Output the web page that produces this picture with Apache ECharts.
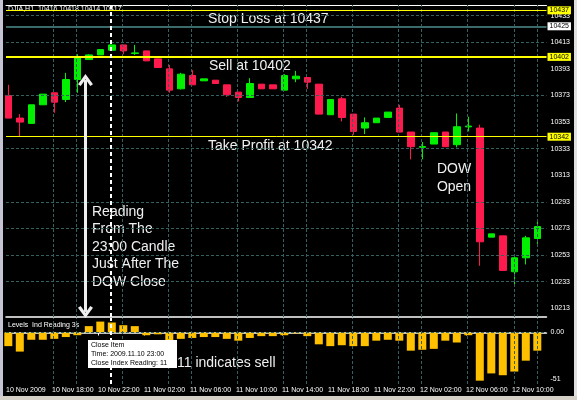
<!DOCTYPE html>
<html><head><meta charset="utf-8">
<script src="https://cdn.jsdelivr.net/npm/echarts@6/dist/echarts.min.js"></script>
<style>html,body{margin:0;padding:0;background:#000;}#c{width:577px;height:400px;}</style>
</head><body><div id="c"></div>
<script>
// ---- data ----
const opens  = [10373,10356,10352,10366,10375,10370,10385,10400,10403.5,10407,10411,10404.6,10406.5,10400.5,10393,10378,10388,10384,10384.5,10381,10375.5,10371.5,10381.5,10381,10377,10385.5,10386.5,10381.5,10358.5,10370.5,10359,10348.5,10352.5,10356.5,10363.5,10345.5,10334,10336.5,10345.5,10336,10349.4,10348.5,10266.5,10267.5,10240.5,10251,10265.5];
const closes = [10356,10353,10366,10374,10368,10385,10401.5,10403.5,10407.5,10411,10406.5,10405,10399,10394,10377,10389,10381,10385.5,10382,10373.5,10371.5,10382,10378,10378,10388,10387.5,10383,10359,10370,10356.5,10346,10352.5,10356,10360.5,10345.5,10334.5,10334.6,10345,10334.5,10349.5,10350,10263,10269,10241.5,10251,10266,10274.5];
const lows   = [10356,10342,10352,10366,10360,10368,10375,10400,10403.5,10407,10404,10403.5,10399,10394,10375,10377.5,10381,10384,10382,10372,10368.5,10371.5,10378,10378,10377,10383,10378,10359,10358.5,10353.5,10343.5,10344,10352.5,10356.5,10345.5,10325,10325,10336.5,10334.5,10334,10346,10245,10266.5,10241.5,10230.5,10246,10261.5];
const highs  = [10381,10359,10366,10374,10375,10390,10404,10404,10407.5,10411,10411,10411,10406.5,10400.5,10396,10390,10392,10385.5,10384.5,10381,10375.5,10386,10381.5,10381,10389,10391.5,10386.5,10381.5,10370,10372,10359,10356.5,10356,10360.5,10366,10345.5,10338,10345,10345.5,10359.5,10357,10351,10269,10267.5,10253,10267.5,10278];
const indicator = [-15,-21,-8,-8,-7,-5,-3,7,12,11,8,7,-3,-2,-9,-7,-6,-5,-5,-7,-9,-6,-4,-4,-3,-1,-4,-13,-15,-14,-15,-15,-9,-8,-9,-20,-19,-18,-9,-11,-3,-53,-45,-47,-43,-31,-20];
const timeLabels = ["10 Nov 2009","10 Nov 18:00","10 Nov 22:00","11 Nov 02:00","11 Nov 06:00","11 Nov 10:00","11 Nov 14:00","11 Nov 18:00","11 Nov 22:00","12 Nov 02:00","12 Nov 06:00","12 Nov 10:00"];
const priceTicks = [10213,10233,10253,10273,10293,10313,10333,10353,10373,10393,10413,10433];
const priceGridLines = [10433,10413,10373,10333,10293,10273,10253,10233];
const timeGridLines = [3.9,5.9,9.9,13.9,15.95,19.9,23.9,25.95,29.95,33.95,35.95,39.95,44,46];
const indicatorTicks = [-51, 0];
const stopLoss = 10437, sellPrice = 10402, takeProfit = 10342, bidPrice = 10425;
const readingCandle = 8.9;   // the 23:00 candle
const arrowCandle = 6.71;
const arrowTop = 10384.6, arrowBottom = 10210.3;

// ---- chart ----
const GREEN = '#00f000', RED = '#ff1a4d', GRID = '#34605f', ORANGE = '#ffc000';
const FONT = 'Liberation Sans';
const chart = echarts.init(document.getElementById('c'), null, {renderer: 'canvas'});
const candleData = opens.map((o, i) => [i, o, closes[i], lows[i], highs[i]]);
const barData = indicator.map((v, i) => [i, v]);
const dash = {color: GRID, width: 1, type: [3, 2]};
const chevron = 'path://M50,0 L100,72 L82,84 L50,36 L18,84 L0,72 Z';

const priceLine = (v, color, width, bg) => ({
  yAxis: v, lineStyle: {color: color, width: width, type: 'solid'},
  label: {show: true, position: 'end', distance: 1, formatter: String(v), color: '#000',
          backgroundColor: bg, fontSize: 7, fontFamily: FONT, padding: [1, 2, 0, 2]}
});

chart.setOption({
  animation: false,
  backgroundColor: '#000',
  grid: [
    {left: 6, top: 5, width: 540.5, height: 312},
    {left: 6, top: 318, width: 540.5, height: 66}
  ],
  xAxis: [
    {type: 'value', gridIndex: 0, min: -0.2, max: 46.8, position: 'top',
     axisLine: {show: true, lineStyle: {color: '#fff', width: 1}}, axisTick: {show: false},
     axisLabel: {show: false}, splitLine: {show: false}},
    {type: 'value', gridIndex: 0, min: -0.2, max: 46.8, position: 'bottom',
     axisLine: {show: true, lineStyle: {color: '#fff', width: 1.5}}, axisTick: {show: false},
     axisLabel: {show: false}, splitLine: {show: false}},
    {type: 'value', gridIndex: 1, min: -0.2, max: 46.8, interval: 4, position: 'bottom',
     axisLine: {show: true, lineStyle: {color: '#fff', width: 1.5}},
     axisTick: {show: true, length: 3, lineStyle: {color: '#fff'}},
     axisLabel: {show: true, color: '#fff', fontSize: 7, fontFamily: FONT, align: 'left', margin: 3,
       showMaxLabel: false,
       formatter: v => timeLabels[Math.round((v + 0.2) / 4)] || ''},
     splitLine: {show: false}}
  ],
  yAxis: [
    {type: 'value', gridIndex: 0, position: 'right', min: 10206.5, max: 10441,
     axisLine: {show: false}, splitLine: {show: false}, axisTick: {show: false},
     axisLabel: {show: true, customValues: priceTicks, color: '#fff', fontSize: 7, fontFamily: FONT, margin: 4,
       formatter: v => String(Math.round(v))}},
    {type: 'value', gridIndex: 1, position: 'right', min: -56.65, max: 15.95,
     axisLine: {show: false}, splitLine: {show: false}, axisTick: {show: false},
     axisLabel: {show: true, customValues: indicatorTicks, color: '#fff', fontSize: 7, fontFamily: FONT, margin: 4,
       formatter: v => v === 0 ? '0.00' : String(v)}}
  ],
  series: [
    {type: 'line', name: 'guides', xAxisIndex: 0, yAxisIndex: 0, z: 1, clip: false,
     data: [[-0.2, 10206.5]], symbol: 'none', lineStyle: {width: 0}, silent: true,
     markLine: {silent: true, symbol: 'none', animation: false, label: {show: false},
       data: [
         ...timeGridLines.map(v => ({xAxis: v, lineStyle: dash})),
         ...priceGridLines.map(v => ({yAxis: v, lineStyle: dash})),
         priceLine(stopLoss, '#ffff00', 1, '#ffff00'),
         priceLine(bidPrice, '#3a6a6a', 2, '#ffffff'),
         priceLine(sellPrice, '#ffff00', 2, '#ffff00'),
         priceLine(takeProfit, '#ffff00', 1, '#ffff00'),
         {xAxis: readingCandle, lineStyle: {color: '#fff', width: 2, type: [4, 3]}}
       ]}},
    {type: 'candlestick', name: 'price', xAxisIndex: 0, yAxisIndex: 0, z: 3,
     barWidth: 7, data: candleData,
     itemStyle: {color: GREEN, color0: RED, borderColor: GREEN, borderColor0: RED, borderWidth: 1}},
    {type: 'line', name: 'arrow', xAxisIndex: 0, yAxisIndex: 0, z: 5, clip: false,
     data: [[-0.2, 10206.5]], symbol: 'none', lineStyle: {width: 0}, silent: true,
     markLine: {silent: true, animation: false, label: {show: false},
       symbol: [chevron, chevron], symbolSize: [15, 12],
       lineStyle: {color: '#eeeeee', width: 3, type: 'solid'},
       data: [[{coord: [arrowCandle, arrowTop]}, {coord: [arrowCandle, arrowBottom]}]]}},
    {type: 'line', name: 'guides2', xAxisIndex: 2, yAxisIndex: 1, z: 1,
     data: [[-0.2, 0]], symbol: 'none', lineStyle: {width: 0}, silent: true,
     markLine: {silent: true, symbol: 'none', animation: false, label: {show: false},
       data: [
         ...timeGridLines.map(v => ({xAxis: v, lineStyle: dash})),
         {yAxis: 0, lineStyle: dash},
         {xAxis: readingCandle, lineStyle: {color: '#fff', width: 2, type: [4, 3]}}
       ]}},
    {type: 'bar', name: 'indicator', xAxisIndex: 2, yAxisIndex: 1, z: 3,
     barWidth: 8, data: barData, itemStyle: {color: ORANGE}}
  ],
  graphic: [
    {type: 'rect', shape: {x: 0, y: 0, width: 3, height: 400}, style: {fill: '#c4c4d4'}},
    {type: 'rect', shape: {x: 574, y: 0, width: 3, height: 400}, style: {fill: '#e0e0e0'}},
    {type: 'rect', shape: {x: 0, y: 396, width: 577, height: 4}, style: {fill: '#d4d0c8'}},
    {type: 'text', x: 8, y: 6, style: {text: 'DJIA,H1  10416 10418 10414 10417', fill: '#fff', font: '7px ' + FONT}},
    {type: 'text', x: 8, y: 322, style: {text: 'Levels  Ind Reading 3s', fill: '#fff', font: '7px ' + FONT}},
    {type: 'text', x: 208, y: 12, style: {text: 'Stop Loss at 10437', fill: '#f0f0f0', font: '14px ' + FONT}},
    {type: 'text', x: 209, y: 59, style: {text: 'Sell at 10402', fill: '#f0f0f0', font: '14px ' + FONT}},
    {type: 'text', x: 208, y: 139, style: {text: 'Take Profit at 10342', fill: '#f0f0f0', font: '14px ' + FONT}},
    {type: 'text', x: 454, y: 160, style: {text: 'DOW\nOpen', fill: '#f0f0f0', font: '14px ' + FONT, align: 'center', lineHeight: 18}},
    {type: 'text', x: 92, y: 203, style: {text: 'Reading\nFrom The\n23:00 Candle\nJust After The\nDOW Close', fill: '#f0f0f0', font: '14px ' + FONT, lineHeight: 17.5}},
    {type: 'rect', shape: {x: 88, y: 340, width: 89, height: 28}, style: {fill: '#fff'}, z: 10},
    {type: 'text', x: 91, y: 341, z: 11, style: {text: 'Close Item\nTime: 2009.11.10 23:00\nClose Index Reading: 11', fill: '#000', font: '7px ' + FONT, lineHeight: 9}},
    {type: 'text', x: 177, y: 356, style: {text: '11 indicates sell', fill: '#f0f0f0', font: '14px ' + FONT}}
  ]
});
</script>
</body></html>
